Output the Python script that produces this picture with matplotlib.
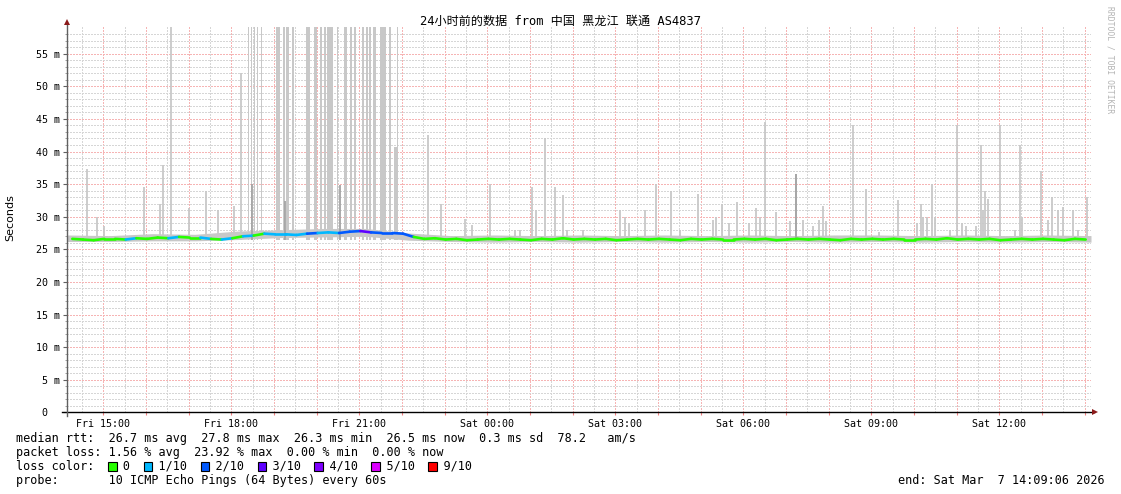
import matplotlib
matplotlib.use('Agg')
import matplotlib.pyplot as plt
from matplotlib.lines import Line2D
from matplotlib.patches import Rectangle
import numpy as np

W, H = 1121, 494

# time axis: hours since Fri 00:00, 24h window ending Sat 14:09:06
START = 14 + 9 / 60 + 6 / 3600
END = START + 24

tick_hours = [15, 18, 21, 24, 27, 30, 33, 36]
tick_labels = ['Fri 15:00', 'Fri 18:00', 'Fri 21:00', 'Sat 00:00',
               'Sat 03:00', 'Sat 06:00', 'Sat 09:00', 'Sat 12:00']
ytick_values = [0, 5, 10, 15, 20, 25, 30, 35, 40, 45, 50, 55]
ytick_labels = [' 0  ', ' 5 m', '10 m', '15 m', '20 m', '25 m', '30 m',
                '35 m', '40 m', '45 m', '50 m', '55 m']

# median rtt (ms), one value per 15 minutes
median_rtt = [26.6, 26.5, 26.4, 26.6, 26.6, 26.5, 26.7, 26.6,
              26.8, 26.7, 26.9, 26.8, 26.8, 26.6, 26.5, 26.7,
              27.0, 27.1, 27.4, 27.3, 27.3, 27.2, 27.4, 27.5,
              27.6, 27.5, 27.7, 27.8, 27.6, 27.5, 27.5, 27.4,
              26.9, 26.6, 26.7, 26.5, 26.6, 26.4, 26.5, 26.6,
              26.5, 26.6, 26.5, 26.4, 26.6, 26.5, 26.7, 26.5,
              26.6, 26.5, 26.6, 26.4, 26.5, 26.6, 26.5, 26.6,
              26.5, 26.4, 26.6, 26.5, 26.6, 26.5, 26.5, 26.6,
              26.5, 26.6, 26.4, 26.5, 26.6, 26.5, 26.6, 26.5,
              26.4, 26.6, 26.5, 26.6, 26.5, 26.6, 26.5, 26.5,
              26.6, 26.5, 26.7, 26.5, 26.6, 26.5, 26.6, 26.4,
              26.5, 26.6, 26.5, 26.6, 26.5, 26.4, 26.6, 26.5]
# lost pings out of 10 for each 15 minute step
loss = [0, 0, 0, 0, 0, 1, 0, 0, 0, 1, 0, 0, 1, 0, 1, 0,
        1, 0, 1, 1, 1, 1, 2, 1, 1, 2, 2, 3, 2, 2, 2, 2,
        0, 0, 0, 0, 0, 0, 0, 0, 0, 0, 0, 0, 0, 0, 0, 0,
        0, 0, 0, 0, 0, 0, 0, 0, 0, 0, 0, 0, 0, 0, 0, 0,
        0, 0, 0, 0, 0, 0, 0, 0, 0, 0, 0, 0, 0, 0, 0, 0,
        0, 0, 0, 0, 0, 0, 0, 0, 0, 0, 0, 0, 0, 0, 0, 0]

# smoke band around the median, hourly (ms)
smoke_lo = [26.2, 26.2, 26.3, 26.3, 26.5, 26.8, 26.9, 27.0, 26.4, 26.2,
            26.1, 26.2, 26.1, 26.2, 26.1, 26.2, 26.1, 26.2, 26.1, 26.2,
            26.1, 26.2, 26.1, 26.2, 26.1]
smoke_hi = [27.2, 27.1, 27.4, 27.3, 27.8, 28.0, 28.2, 28.2, 27.5, 27.1,
            27.2, 27.1, 27.2, 27.1, 27.2, 27.1, 27.2, 27.1, 27.2, 27.2,
            27.1, 27.2, 27.1, 27.2, 27.1]

# single smoke spikes: clock hour, max rtt (ms)
spike_time = [14.62, 14.86, 15.02, 15.96, 16.33, 16.40, 16.59, 17.01, 17.41, 17.69,
              18.07, 18.23, 22.61, 22.92, 23.48, 23.64, 24.07, 24.65, 24.77, 25.05,
              25.14, 25.36, 25.59, 25.78, 25.87, 26.25, 27.11, 27.23, 27.32, 27.70,
              27.96, 28.31, 28.52, 28.94, 29.29, 29.36, 29.50, 29.67, 29.86, 30.14,
              30.30, 30.39, 30.51, 30.77, 31.10, 31.24, 31.40, 31.64, 31.78, 31.87,
              31.94, 32.57, 32.88, 33.18, 33.63, 34.07, 34.17, 34.21, 34.31, 34.43,
              34.49, 34.85, 35.01, 35.13, 35.22, 35.46, 35.57, 35.62, 35.67, 35.74,
              36.02, 36.37, 36.49, 36.53, 36.98, 37.14, 37.24, 37.38, 37.50, 37.73,
              37.85, 38.06]
spike_top = [37.3, 30.0, 28.6, 34.5, 32.0, 38.0, 60.0, 31.3, 34.0, 31.0,
             31.7, 52.0, 42.5, 32.0, 29.6, 28.8, 35.0, 28.0, 28.0, 34.5,
             31.0, 42.0, 34.5, 33.4, 28.0, 28.0, 31.0, 30.0, 29.0, 31.0,
             35.0, 34.0, 28.0, 33.5, 29.5, 30.0, 32.0, 29.0, 32.3, 29.0,
             31.3, 30.0, 44.5, 30.8, 29.3, 36.5, 29.5, 28.5, 29.5, 31.7,
             29.3, 44.0, 34.3, 27.7, 32.5, 29.0, 32.0, 30.0, 30.0, 35.0,
             30.0, 28.0, 44.0, 29.0, 28.5, 28.5, 41.0, 31.0, 34.0, 32.7,
             44.0, 28.0, 41.0, 30.0, 37.0, 29.5, 33.0, 31.0, 31.5, 31.0,
             28.0, 33.0]

# wider smoke blocks in the evening (clock hour start/end, max rtt ms)
block_start = [18.39, 18.47, 18.53, 18.61, 18.70, 19.06, 19.22, 19.28, 19.42, 19.76,
               19.95, 20.08, 20.17, 20.25, 20.47, 20.65, 20.78, 20.88, 21.07, 21.15,
               21.23, 21.32, 21.48, 21.71, 21.82, 21.89]
block_end = [18.42, 18.49, 18.56, 18.63, 18.72, 19.14, 19.25, 19.35, 19.48, 19.85,
             20.02, 20.13, 20.22, 20.39, 20.51, 20.71, 20.84, 20.92, 21.12, 21.21,
             21.28, 21.39, 21.63, 21.74, 21.89, 21.92]
block_top = [60.0, 60.0, 60.0, 60.0, 60.0, 60.0, 60.0, 60.0, 60.0, 60.0,
             60.0, 60.0, 60.0, 60.0, 60.0, 60.0, 60.0, 60.0, 60.0, 60.0,
             60.0, 60.0, 60.0, 60.0, 40.7, 60.0]

# darker smoke stubs
dark_time = [18.48, 19.25, 20.55, 31.24]
dark_top = [35.0, 32.4, 34.8, 36.5]

loss_labels = ['0', '1/10', '2/10', '3/10', '4/10', '5/10', '9/10']
loss_colors = ['#26ff00', '#00b8ff', '#0059ff', '#5e00ff', '#7e00ff', '#dd00ff', '#ff0000']

MONO = 'DejaVu Sans Mono'


def main():
    fig = plt.figure(figsize=(W / 100, H / 100), dpi=100)
    y0, y1 = 412.3, 27.0
    ax = fig.add_axes([67 / W, 1 - y0 / H, (1091 - 67) / W, (y0 - y1) / H])
    ax.set_xlim(START, END)
    ax.set_ylim(0, 59.1)
    for s in ax.spines.values():
        s.set_visible(False)

    # grid, 1px dots
    dot = (0, (1.4, 1.4))
    red, gray = '#f6b4b4', '#d6d6d6'
    for h in np.arange(14.5, 38.5, 0.5):
        if h < START or h > END:
            continue
        col = red if h == int(h) else gray
        ax.axvline(h, color=col, lw=0.72, ls=dot, antialiased=False, zorder=0)
    for v in range(1, 59):
        col = red if v % 5 == 0 else gray
        ax.axhline(v, color=col, lw=0.72, ls=dot, antialiased=False, zorder=0)

    # smoke
    t_med = np.linspace(START, END, len(median_rtt) + 1)[:-1] + 0.125
    t_smoke = np.linspace(START, END, len(smoke_lo))
    ax.fill_between(t_smoke, smoke_lo, smoke_hi, color='#c8c8c8', lw=0, zorder=2)
    ax.vlines(spike_time, 26.5, spike_top, colors='#c8c8c8', lw=1.3, zorder=2)
    widths = np.subtract(block_end, block_start)
    ax.bar(block_start, np.subtract(block_top, 26.5), width=widths, bottom=26.5,
           align='edge', color='#c8c8c8', lw=0, zorder=2)
    ax.vlines(dark_time, 26.5, dark_top, colors='#a4a4a4', lw=1.3, zorder=3)

    # median line coloured by loss
    for i in range(len(median_rtt) - 1):
        ax.plot(t_med[i:i + 2], median_rtt[i:i + 2], color=loss_colors[loss[i]],
                lw=1.9, solid_capstyle='round', zorder=4)

    # ticks
    ax.set_xticks(tick_hours)
    ax.set_xticklabels(tick_labels, family=MONO, fontsize=7.2)
    ax.set_xticks([h for h in range(15, 39)], minor=True)
    ax.tick_params(axis='x', which='both', length=2.5, width=0.8, color='#f08080', pad=2)
    ax.set_yticks(ytick_values)
    ax.set_yticklabels(ytick_labels, family=MONO, fontsize=7.2)
    ax.set_yticks(range(0, 59), minor=True)
    ax.tick_params(axis='y', which='major', length=3, width=0.8, color='#606060', pad=2)
    ax.tick_params(axis='y', which='minor', length=1.5, width=0.6, color='#909090')

    # axes with arrows
    yb = 1 - y0 / H
    fig.add_artist(Line2D([62 / W, 1094 / W], [yb, yb], color='black', lw=1))
    fig.add_artist(Line2D([67 / W, 67 / W], [1 - 416 / H, 1 - 24 / H], color='#606060', lw=1))
    fig.add_artist(Line2D([1095 / W], [yb], marker='>', ms=4, color='#8b1a1a', mew=0))
    fig.add_artist(Line2D([67 / W], [1 - 22 / H], marker='^', ms=4, color='#8b1a1a', mew=0))

    # texts
    fig.text(560 / W, 1 - 21 / H, '24小时前的数据 from 中国 黑龙江 联通 AS4837',
             family=[MONO, 'Noto Sans CJK SC'], fontsize=8.7, ha='center', va='center')
    fig.text(10 / W, 1 - 218 / H, 'Seconds', rotation=90, fontsize=8,
             family='DejaVu Sans', ha='center', va='center')
    fig.text(1110 / W, 1 - 60 / H, 'RRDTOOL / TOBI OETIKER', rotation=270, fontsize=5.8,
             family=MONO, color='#b4b4b4', ha='center', va='center')

    fs = 8.5
    cw = fs / 72 * 100 * 0.602
    rows = [
        'median rtt:  26.7 ms avg  27.8 ms max  26.3 ms min  26.5 ms now  0.3 ms sd  78.2   am/s',
        'packet loss: 1.56 % avg  23.92 % max  0.00 % min  0.00 % now',
        None,
        'probe:       10 ICMP Echo Pings (64 Bytes) every 60s',
    ]
    legend = 'loss color:  '
    cols = []
    for lab in loss_labels:
        cols.append(len(legend))
        legend += '  ' + lab + '  '
    rows[2] = legend.rstrip()
    row_y = [438, 452, 466, 480]
    for txt, y in zip(rows, row_y):
        fig.text(16 / W, 1 - y / H, txt, family=MONO, fontsize=fs, ha='left', va='center')
    for c, col in zip(cols, loss_colors):
        x = 16 + c * cw
        fig.add_artist(Rectangle((x / W, 1 - 470.5 / H), 8.5 / W, 8.5 / H,
                                 facecolor=col, edgecolor='black', lw=0.8))
    fig.text(1105 / W, 1 - 480 / H, 'end: Sat Mar  7 14:09:06 2026', family=MONO,
             fontsize=fs, ha='right', va='center')

    fig.savefig('out.png', dpi=100)
    plt.close(fig)


if __name__ == '__main__':
    main()
